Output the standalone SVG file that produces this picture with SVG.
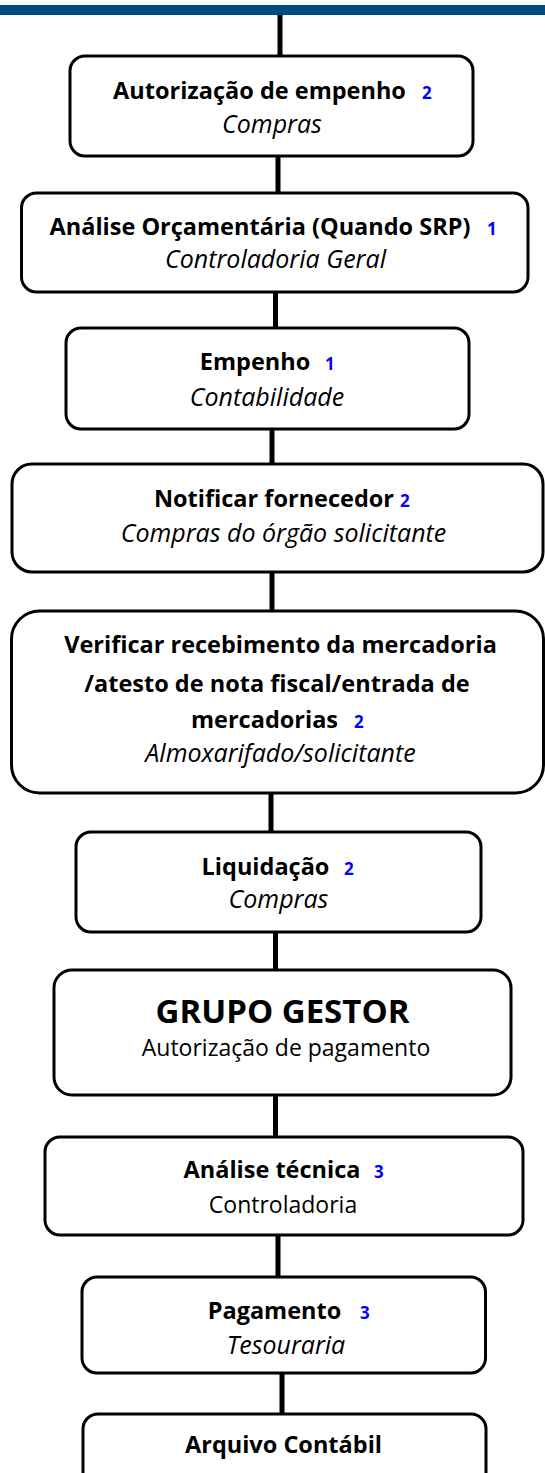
<svg xmlns="http://www.w3.org/2000/svg" width="545" height="1473" viewBox="0 0 545 1473">
<style>
.box{fill:#fff;stroke:#000;stroke-width:3}
.c{stroke:#000;stroke-width:5;fill:none}
text{font-family:"Open Sans","Noto Sans","Liberation Sans",sans-serif;fill:#000}
.b{font-weight:bold;font-size:23.5px;text-anchor:middle}
.i{font-style:italic;font-size:25px;text-anchor:middle}
.r{font-size:23px;text-anchor:middle}
.n{font-weight:bold;font-size:17px;fill:#0000ff}
.big{font-weight:bold;font-size:33px;text-anchor:middle}
</style>
<rect x="0" y="5" width="545" height="10" fill="#034b7a"/>
<g id="connectors">
<line class="c" x1="280" y1="15" x2="280" y2="57"/>
<line class="c" x1="278" y1="157" x2="278" y2="193"/>
<line class="c" x1="275.5" y1="292" x2="275.5" y2="328"/>
<line class="c" x1="272" y1="429" x2="272" y2="464"/>
<line class="c" x1="272" y1="572" x2="272" y2="611"/>
<line class="c" x1="271" y1="793" x2="271" y2="832"/>
<line class="c" x1="275.5" y1="932" x2="275.5" y2="970"/>
<line class="c" x1="275.5" y1="1095" x2="275.5" y2="1137"/>
<line class="c" x1="278" y1="1235" x2="278" y2="1277"/>
<line class="c" x1="282" y1="1373" x2="282" y2="1414"/>
</g>
<g id="n1">
<rect class="box" x="70" y="56" width="403" height="100" rx="15"/>
<text class="b" x="259.5" y="99">Autorização de empenho</text>
<text class="n" x="422" y="99">2</text>
<text class="i" x="272" y="133">Compras</text>
</g>
<g id="n2">
<rect class="box" x="21.5" y="193" width="506.5" height="99" rx="15"/>
<text class="b" x="260" y="235">Análise Orçamentária (Quando SRP)</text>
<text class="n" x="487" y="235">1</text>
<text class="i" x="275.5" y="268">Controladoria Geral</text>
</g>
<g id="n3">
<rect class="box" x="66" y="328" width="403" height="101" rx="15"/>
<text class="b" x="255" y="370">Empenho</text>
<text class="n" x="325" y="370">1</text>
<text class="i" x="267" y="406">Contabilidade</text>
</g>
<g id="n4">
<rect class="box" x="12" y="464" width="531" height="108" rx="20"/>
<text class="b" x="274" y="507">Notificar fornecedor</text>
<text class="n" x="400" y="507">2</text>
<text class="i" x="283.5" y="542">Compras do órgão solicitante</text>
</g>
<g id="n5">
<rect class="box" x="11.5" y="611" width="532" height="182" rx="28"/>
<text class="b" x="280.5" y="653">Verificar recebimento da mercadoria</text>
<text class="b" x="277" y="692">/atesto de nota fiscal/entrada de</text>
<text class="b" x="264.5" y="728">mercadorias</text>
<text class="n" x="354" y="728">2</text>
<text class="i" x="280.5" y="762">Almoxarifado/solicitante</text>
</g>
<g id="n6">
<rect class="box" x="76" y="832" width="405" height="100" rx="15"/>
<text class="b" x="265.5" y="875">Liquidação</text>
<text class="n" x="344" y="875">2</text>
<text class="i" x="278.5" y="908">Compras</text>
</g>
<g id="n7">
<rect class="box" x="54" y="970" width="457" height="125" rx="18"/>
<text class="big" x="282.5" y="1023">GRUPO GESTOR</text>
<text class="r" x="286" y="1056">Autorização de pagamento</text>
</g>
<g id="n8">
<rect class="box" x="45" y="1137" width="478" height="98" rx="15"/>
<text class="b" x="272" y="1178">Análise técnica</text>
<text class="n" x="374" y="1178">3</text>
<text class="r" x="283" y="1213">Controladoria</text>
</g>
<g id="n9">
<rect class="box" x="82" y="1277" width="403.5" height="96" rx="15"/>
<text class="b" x="274.5" y="1319">Pagamento</text>
<text class="n" x="360" y="1319">3</text>
<text class="i" x="286" y="1354">Tesouraria</text>
</g>
<g id="n10">
<rect class="box" x="83" y="1414" width="403" height="80" rx="15"/>
<text class="b" x="283.5" y="1453">Arquivo Contábil</text>
</g>
</svg>
